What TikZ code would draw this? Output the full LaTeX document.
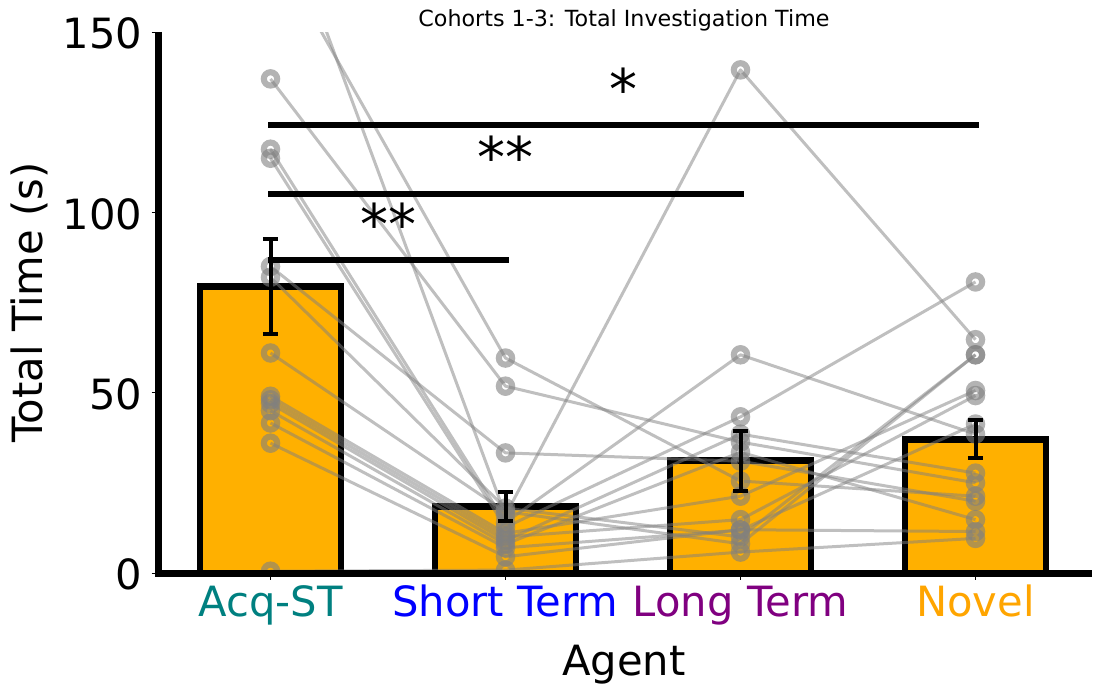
\documentclass[tikz,border=0pt]{standalone}
\usepackage{fontspec}
\setmainfont{DejaVu Sans}
\definecolor{barfill}{HTML}{FFB000}
\definecolor{acqteal}{HTML}{008080}
\definecolor{ltpurple}{HTML}{800080}
\definecolor{novorange}{HTML}{FFA500}
\tikzset{
  bar/.style={draw=black, fill=barfill, line width=5.2pt},
  ring/.style={circle, draw=gray, draw opacity=0.6, line width=4.6pt, minimum size=10pt, inner sep=0pt},
  pair/.style={draw=gray, draw opacity=0.5, line width=2.25pt, line join=round},
  errbar/.style={line width=3pt},
  sigline/.style={line width=4.5pt, line cap=rect},
  spine/.style={line width=5.25pt},
  bigfont/.style={font=\fontsize{31.25}{37.5}\selectfont},
  starlab/.style={font=\fontsize{42}{50}\selectfont, anchor=base},
}
\begin{document}
\begin{tikzpicture}[x=0.75pt, y=-0.75pt]
	\useasboundingbox (0,0) rectangle (1097,693);

	% data part: x = agent index, y = seconds
	\begin{scope}[shift={(270.5,573)}, x=176.25pt, y=2.705pt]
		\foreach \i/\m in {0/79.4, 1/18.5, 2/31.1, 3/37.0}
			\draw[bar] (\i-0.3,0) rectangle (\i+0.3,\m);

		% one line per animal
		\begin{scope}
			\clip (-0.4766,0) rectangle (3.496,150);
			\foreach \k/\a/\s/\l/\n in {1/192/16/139.5/64.7, 2/175/59.6/25.5/21.3, 3/137/51.8/36.3/25,
				4/117.5/14/60.5/38.5, 5/115/12.7/43.3/80.7, 6/85/33.3/31/19.9, 7/82/18/10/60.5,
				8/61/17/8.1/60.5, 9/49/11/21.3/50.6, 10/48/10/14.8/49.2, 11/47/9/38.5/27.7,
				12/45/8/33.5/14.8, 13/41.6/7/11.9/41.3, 14/36/4.5/12/11.5, 15/0.5/0.8/5.8/9.6}{
				\node[ring] (a\k) at (0,\a) {};
				\node[ring] (s\k) at (1,\s) {};
				\node[ring] (l\k) at (2,\l) {};
				\node[ring] (n\k) at (3,\n) {};
				\draw[pair] (a\k.center) -- (s\k.center) -- (l\k.center) -- (n\k.center);
			}
		\end{scope}

		% sem
		\foreach \i/\lo/\hi in {0/66.3/92.6, 1/14.4/22.5, 2/22.8/39.4, 3/31.8/42.3}{
			\draw[errbar] (\i,\lo) -- (\i,\hi);
			\draw[errbar] (\i-0.032,\lo) -- (\i+0.032,\lo);
			\draw[errbar] (\i-0.032,\hi) -- (\i+0.032,\hi);
		}

		% significance
		\draw[sigline] (0,124.1) -- (3,124.1);
		\draw[sigline] (0,105.2) -- (2,105.2);
		\draw[sigline] (0,86.7) -- (1,86.7);
		\node[starlab] (star3) at (1.5,128.5) {*};
		\node[starlab] (star2) at (1,109.6) {**};
		\node[starlab] (star1) at (0.5,91.1) {**};
	\end{scope}

	% axes
	\draw[spine] (158.5,31.9) -- (158.5,576.5);
	\draw[spine] (155,573) -- (1092,573);
	\foreach \v/\py in {0/573, 50/392.65, 100/212.3, 150/31.9}{
		\draw[line width=0.6pt] (151.5,\py) -- (155,\py);
		\node[bigfont, anchor=base east] (y\v) at (147,{\py+16.7}) {\v};
	}
	\foreach \px in {270.5, 505.5, 740.5, 975.5}
		\draw[line width=0.6pt] (\px,576.5) -- (\px,580);

	\node[bigfont, anchor=base, text=acqteal] (xacq) at (270.5,616) {Acq-ST};
	\node[bigfont, anchor=base, text=blue] (xst) at (505.5,616) {Short Term};
	\node[bigfont, anchor=base, text=ltpurple] (xlt) at (740.5,616) {Long Term};
	\node[bigfont, anchor=base, text=novorange] (xnov) at (975.5,616) {Novel};

	\node[bigfont, anchor=base] (xlabel) at (624,675) {Agent};
	\node[bigfont, anchor=base, rotate=90] (ylabel) at (42.5,302.5) {Total Time (s)};
	\node[font=\fontsize{16.67}{20}\selectfont, anchor=base] (title) at (624,26) {Cohorts 1-3: Total Investigation Time};
\end{tikzpicture}
\end{document}
